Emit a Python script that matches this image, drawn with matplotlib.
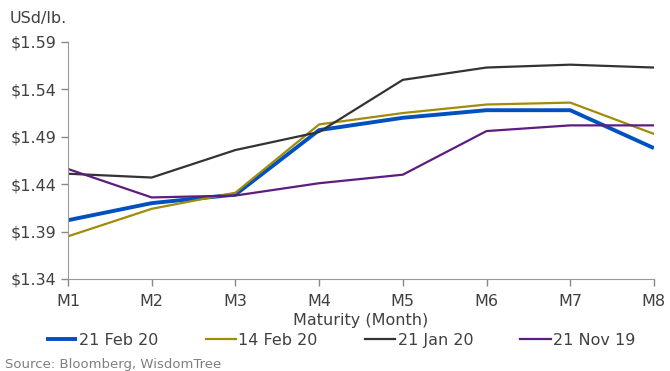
import matplotlib
matplotlib.use("Agg")
from matplotlib import pyplot as plt

plt.rcParams['font.family'] = ['DejaVu Sans']

months = ['M1', 'M2', 'M3', 'M4', 'M5', 'M6', 'M7', 'M8']
feb21 = [1.402, 1.420, 1.429, 1.497, 1.510, 1.518, 1.518, 1.478]
feb14 = [1.385, 1.414, 1.431, 1.503, 1.515, 1.524, 1.526, 1.493]
jan21 = [1.451, 1.447, 1.476, 1.495, 1.550, 1.563, 1.566, 1.563]
nov21 = [1.456, 1.426, 1.428, 1.441, 1.450, 1.496, 1.502, 1.502]
yticks = [1.34, 1.39, 1.44, 1.49, 1.54, 1.59]

txt = '#404040'
fig = plt.figure(figsize=(6.7, 3.71), dpi=100)
ax = fig.add_axes([0.1015, 0.248, 0.8745, 0.639])

x = list(range(len(months)))
ax.plot(x, feb21, color='#0050C0', lw=2.8, label='21 Feb 20', solid_capstyle='butt')
ax.plot(x, feb14, color='#A08C0A', lw=1.6, label='14 Feb 20')
ax.plot(x, jan21, color='#333333', lw=1.6, label='21 Jan 20')
ax.plot(x, nov21, color='#5E1C80', lw=1.6, label='21 Nov 19')

ax.set_xlim(0, len(months) - 1)
ax.set_ylim(1.34, 1.59)
ax.set_xticks(x)
ax.set_xticklabels(months)
ax.set_yticks(yticks)
ax.set_yticklabels(['$%.2f' % v for v in yticks])
ax.tick_params(colors='#888888', labelcolor=txt, labelsize=11.5, length=5, width=1)
ax.tick_params(axis='x', pad=6)
for s in ['top', 'right']:
    ax.spines[s].set_visible(False)
for s in ['left', 'bottom']:
    ax.spines[s].set_color('#999999')
ax.set_xlabel('Maturity (Month)', fontsize=11.5, color=txt, labelpad=3)

fig.text(0.015, 0.95, 'USd/lb.', fontsize=11.5, color=txt, ha='left', va='center')
leg = fig.legend(loc='center', bbox_to_anchor=(0.509, 0.083), ncol=4, frameon=False,
                 fontsize=11.5, handlelength=1.9, handletextpad=0.15, columnspacing=2.95,
                 borderpad=0)
for t in leg.get_texts():
    t.set_color(txt)
fig.text(0.008, 0.018, 'Source: Bloomberg, WisdomTree', fontsize=9.5, color='#7f7f7f',
         ha='left', va='center')

fig.savefig('out.png', dpi=100)
